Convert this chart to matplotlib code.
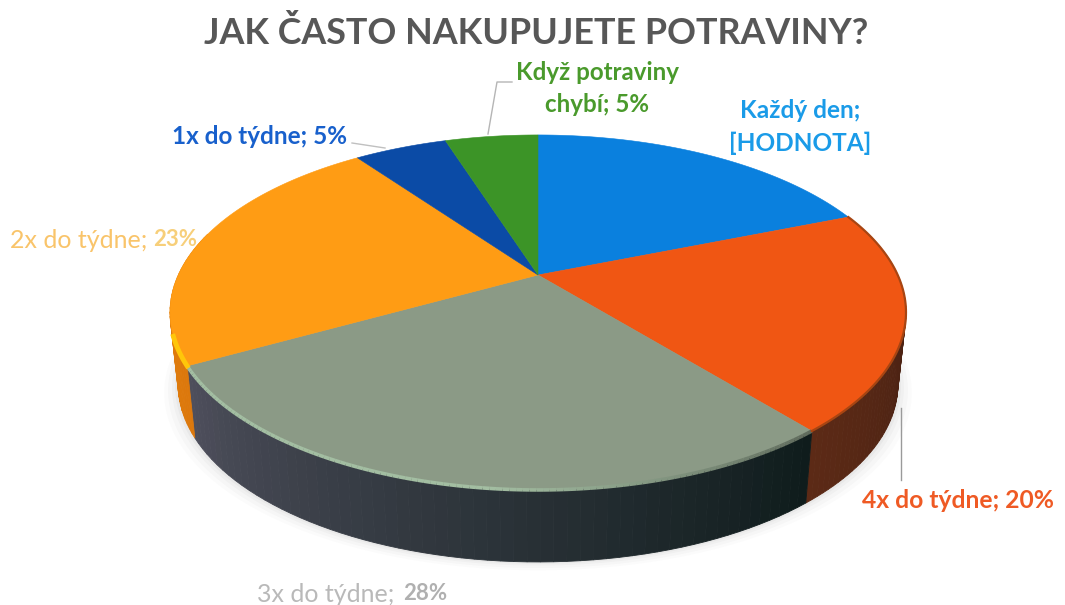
import matplotlib.pyplot as plt
import matplotlib.colors as mcolors
import numpy as np

plt.rcParams["font.family"] = ["Lato", "DejaVu Sans"]

title = "JAK ČASTO NAKUPUJETE POTRAVINY?"
categories = ["Každý den", "4x do týdne", "3x do týdne", "2x do týdne", "1x do týdne", "Když potraviny chybí"]
values = [19, 20, 28, 23, 5, 5]
top_colors = ["#0a80de", "#f05613", "#8b9a86", "#ff9c14", "#0b4ba6", "#3c9427"]
side_start = ["#0a4f8a", "#3a1a10", "#0f1c1c", "#dc780c", "#083070", "#245a18"]
side_end = ["#0a4f8a", "#5c2a16", "#4e4f5c", "#e8850e", "#083070", "#245a18"]

# pie geometry in pixels, the picture is a tilted disc seen in perspective
CX, CY = 538, 275
K = 0.211
A = 169.6
B = 359.7
DEPTH = 72
TAPER = 0.978


def project(theta):
    u, v = np.sin(theta), np.cos(theta)
    w = 1 + K * v
    return CX + B * u / w, CY - A * v / w


def mix(c1, c2, t):
    c1, c2 = np.array(mcolors.to_rgb(c1)), np.array(mcolors.to_rgb(c2))
    return tuple(c1 + (c2 - c1) * t)


def draw_shadow(ax):
    th = np.linspace(0, 2 * np.pi, 300)
    x, y = project(th)
    for grow, alpha in zip([14, 10, 6, 3], [0.02, 0.03, 0.04, 0.05]):
        ax.fill((x - CX) * (TAPER + grow / 368) + CX, y + DEPTH + grow * 0.6, color="#606060", alpha=alpha, lw=0, zorder=1)


def draw_sides(ax, edges):
    for i in range(len(values)):
        th = np.linspace(edges[i], edges[i + 1], 60)
        for j in range(len(th) - 1):
            mid = (th[j] + th[j + 1]) / 2
            if not np.pi * 0.42 < mid < np.pi * 1.58:
                continue
            x, y = project(np.array([th[j], th[j + 1]]))
            xb = CX + (x - CX) * TAPER
            col = mix(side_start[i], side_end[i], j / (len(th) - 2))
            ax.fill([x[0], x[1], xb[1], xb[0]], [y[0], y[1], y[1] + DEPTH, y[0] + DEPTH],
                    color=col, lw=0.6, ec=col, zorder=2)


def draw_top(ax, edges):
    for i in range(len(values)):
        th = np.linspace(edges[i], edges[i + 1], 80)
        x, y = project(th)
        ax.fill(np.r_[CX, x], np.r_[CY, y], color=top_colors[i], lw=0.4, zorder=3)


def draw_rim(ax, edges):
    # soft light rim on the front of the grey slice, dark on the orange one
    th = np.linspace(edges[2], edges[3], 120)
    x, y = project(th)
    for j in range(len(th) - 1):
        t = j / (len(th) - 2)
        col = mix("#5f6a5c", "#a3bea2", min(1, t * 2.2))
        ax.plot(x[j:j + 2], y[j:j + 2], color=col, lw=2.6, solid_capstyle="butt", zorder=4)
    th = np.linspace(edges[1], edges[2], 80)
    x, y = project(th)
    ax.plot(x, y, color="#a84512", lw=1.6, zorder=4)
    th = np.linspace(edges[3], edges[3] + 0.16, 20)
    x, y = project(th)
    ax.plot(x, y, color="#ffc60a", lw=3.5, zorder=4)


def main():
    fig = plt.figure(figsize=(10.65, 6.05), dpi=100)
    ax = fig.add_axes([0, 0, 1, 1])
    ax.set_xlim(0, 1065)
    ax.set_ylim(605, 0)
    ax.axis("off")

    edges = np.r_[0, np.cumsum(values)] / sum(values) * 2 * np.pi

    draw_shadow(ax)
    draw_sides(ax, edges)
    draw_top(ax, edges)
    draw_rim(ax, edges)

    ax.text(536, 33, title, fontsize=25.8, fontweight="bold", color="#575757", ha="center", va="center", zorder=6)

    # leader lines
    ax.plot([512, 497, 488], [82, 82, 134], color="#b5b5b5", lw=1, zorder=5)
    ax.plot([352, 385], [143, 148], color="#c0c0c0", lw=1, zorder=5)
    ax.plot([901, 901], [408, 480], color="#9a9a9a", lw=1, zorder=5)

    ax.text(597, 73, "Když potraviny", fontsize=17.4, fontweight="bold", color="#4a9a2c", ha="center", va="center", zorder=6)
    ax.text(597, 105, "chybí; 5%", fontsize=17.4, fontweight="bold", color="#4a9a2c", ha="center", va="center", zorder=6)
    ax.text(800, 110, "Každý den;", fontsize=17.6, fontweight="bold", color="#1a9be8", ha="center", va="center", zorder=6)
    ax.text(800, 143, "[HODNOTA]", fontsize=17.6, fontweight="bold", color="#1a9be8", ha="center", va="center", zorder=6)
    ax.text(259, 137, "1x do týdne; 5%", fontsize=17.5, fontweight="bold", color="#1860cc", ha="center", va="center", zorder=6)
    ax.text(958, 500, "4x do týdne; 20%", fontsize=17.7, fontweight="bold", color="#ef5a24", ha="center", va="center", zorder=6)
    ax.text(10, 240, "2x do týdne;", fontsize=18, color="#f9c46a", ha="left", va="center", zorder=6)
    ax.text(197, 240, "23%", fontsize=16, fontweight="bold", color="#f7cf7a", ha="right", va="center", zorder=6)
    ax.text(257, 594, "3x do týdne;", fontsize=18, color="#b9b9b9", ha="left", va="center", zorder=6)
    ax.text(447, 594, "28%", fontsize=16, fontweight="bold", color="#b0b0b0", ha="right", va="center", zorder=6)

    fig.savefig("out.png", dpi=100)


if __name__ == "__main__":
    main()
